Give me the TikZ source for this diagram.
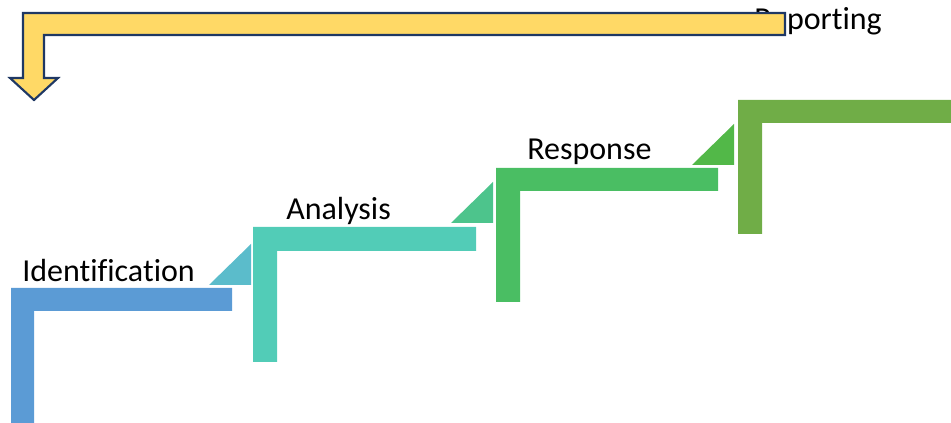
\documentclass[tikz,border=0pt]{standalone}
\usepackage{fontspec}
\setmainfont{Carlito}[Ligatures=NoCommon]
\begin{document}
\begin{tikzpicture}[x=0.75pt,y=-0.75pt,
  steplabel/.style={inner sep=0pt,anchor=base west,font=\fontsize{24}{28}\selectfont,text=black},
  stair/.style={draw=none},
  wedge/.style={draw=none},
  loopback/.style={fill=arrowfill,draw=arrowline,line width=1.6pt,line join=miter}]
\definecolor{stepA}{HTML}{5B9BD5}
\definecolor{stepB}{HTML}{52CCB7}
\definecolor{stepC}{HTML}{4ABE63}
\definecolor{stepD}{HTML}{70AD47}
\definecolor{wedgeA}{HTML}{5BBCCB}
\definecolor{wedgeB}{HTML}{4DC48C}
\definecolor{wedgeC}{HTML}{52B848}
\definecolor{arrowfill}{HTML}{FFD966}
\definecolor{arrowline}{HTML}{1F3864}
\useasboundingbox (0,0) rectangle (951,423);

% stair steps (L-shaped bars)
\fill[stair,stepA] (11,423) -- (11,288) -- (232,288) -- (232,311) -- (34,311) -- (34,423) -- cycle;
\fill[stair,stepB] (253,362) -- (253,227) -- (476,227) -- (476,251) -- (277,251) -- (277,362) -- cycle;
\fill[stair,stepC] (496,302) -- (496,168) -- (718,168) -- (718,191) -- (520,191) -- (520,302) -- cycle;
\fill[stair,stepD] (738,234) -- (738,100) -- (951,100) -- (951,123) -- (762,123) -- (762,234) -- cycle;

% small wedges between steps
\fill[wedge,wedgeA] (209,285) -- (251,285) -- (251,244) -- cycle;
\fill[wedge,wedgeB] (451,223) -- (493,223) -- (493,182) -- cycle;
\fill[wedge,wedgeC] (692,165) -- (734,165) -- (734,124) -- cycle;

% step labels
\node[steplabel] (ident) at (22,282) {Identification};
\node[steplabel] (anal) at (286,220) {Analysis};
\node[steplabel] (resp) at (527,160) {Response};
\node[steplabel] (report) at (754,30) {Reporting};

% feedback arrow back to the start (drawn over the last label)
\draw[loopback] (785,13) -- (23,13) -- (23,78) -- (10,78) -- (34,100) -- (58,78)
  -- (44,78) -- (44,35) -- (785,35) -- cycle;
\end{tikzpicture}
\end{document}
